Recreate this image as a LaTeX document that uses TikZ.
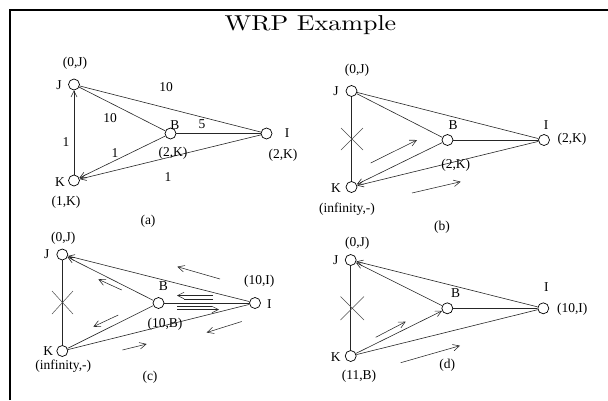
\documentclass[tikz,border=0pt]{standalone}
\usepackage{fontspec}
\newfontfamily\labfont{Liberation Serif}
\usetikzlibrary{arrows.meta}
\tikzset{
  vtx/.style={circle,draw=black,line width=0.7pt,minimum size=11pt,inner sep=0pt,fill=white},
  edge/.style={draw=black!85,line width=0.6pt},
  dir/.style={edge,-{Straight Barb[length=6pt,width=6pt]}},
  flow/.style={draw=black!85,line width=0.55pt,-{Straight Barb[length=6.5pt,width=6.5pt]}},
  shaft/.style={draw=black!85,line width=0.55pt},
  cross/.style={draw=black!70,line width=0.5pt},
  lab/.style={font=\labfont\fontsize{13.5}{15}\selectfont,inner sep=0pt},
  frameline/.style={line width=2pt,draw=black}
}
\begin{document}
\begin{tikzpicture}[x=1pt,y=-1pt]
\useasboundingbox (0,0) rectangle (608,400);
% frame and title
\draw[frameline] (10,400) -- (10,10) -- (608,10);
\node[anchor=base,xscale=2.6,yscale=2.15,inner sep=0pt] (title) at (310.5,30.7) {\fontsize{10}{12}\selectfont WRP Example};

% ---------- (a) ----------
\node[vtx] (aJ) at (74,84.5) {};
\node[vtx] (aK) at (74,180.5) {};
\node[vtx] (aB) at (170.5,133.5) {};
\node[vtx] (aI) at (266.5,133.5) {};
\draw[edge] (aJ) -- (aI);
\draw[edge] (aJ) -- (aB);
\draw[edge] (aB) -- (aI);
\draw[dir] (aB) -- (aK);
\draw[dir] (aI) -- (aK);
\draw[dir] (aK) -- (aJ);
\node[lab] at (75,63) {(0,J)};
\node[lab] at (59,85) {J};
\node[lab] at (166,87) {10};
\node[lab] at (110,118) {10};
\node[lab] at (175,125) {B};
\node[lab] at (202,124) {5};
\node[lab] at (287,133) {I};
\node[lab] at (173,153) {(2,K)};
\node[lab] at (283,155) {(2,K)};
\node[lab] at (66,142) {1};
\node[lab] at (115,153) {1};
\node[lab] at (168,177) {1};
\node[lab] at (60,182) {K};
\node[lab] at (66,202) {(1,K)};
\node[lab] at (148,221) {(a)};

% ---------- (b) ----------
\node[vtx] (bJ) at (351.5,91) {};
\node[vtx] (bK) at (351.5,187) {};
\node[vtx] (bB) at (447.5,140) {};
\node[vtx] (bI) at (544,140) {};
\draw[edge] (bJ) -- (bK);
\draw[edge] (bJ) -- (bB);
\draw[edge] (bJ) -- (bI);
\draw[edge] (bB) -- (bI);
\draw[dir] (bB) -- (bK);
\draw[dir] (bI) -- (bK);
\draw[cross] (341,128) -- (363,150) (341,150) -- (363,128);
\draw[flow] (370.7,163) -- (417,140);
\draw[flow] (412,193) -- (460.7,181.7);
\node[lab] at (357,70) {(0,J)};
\node[lab] at (336,90.7) {J};
\node[lab] at (453,125) {B};
\node[lab] at (546,125) {I};
\node[lab] at (572,139) {(2,K)};
\node[lab] at (455.7,165) {(2,K)};
\node[lab] at (336,188) {K};
\node[lab] at (347,209.5) {(infinity,-)};
\node[lab] at (442,227) {(b)};

% ---------- (c) ----------
\node[vtx] (cJ) at (62.3,254.5) {};
\node[vtx] (cK) at (62.3,351) {};
\node[vtx] (cB) at (158.5,303) {};
\node[vtx] (cI) at (255,303) {};
\draw[edge] (cJ) -- (cK);
\draw[edge] (cK) -- (cB);
\draw[edge] (cK) -- (cI);
\draw[edge] (cB) -- (cI);
\draw[dir] (cB) -- (cJ);
\draw[dir] (cI) -- (cJ);
\draw[cross] (52,291) -- (73,314) (52,314) -- (73,291);
\draw[flow] (220,279) -- (177.3,266.7);
\draw[flow] (121.7,290) -- (98.3,279.3);
\draw[flow] (213,295.5) -- (177,295.5);
\draw[shaft] (213,298.8) -- (184,298.8);
\draw[flow] (177,309.5) -- (219,309.5);
\draw[shaft] (177,306.2) -- (212,306.2);
\draw[flow] (118.3,315) -- (93.3,326.7);
\draw[flow] (241.7,321.5) -- (206.7,332.5);
\draw[flow] (122.5,350) -- (146.7,344);
\node[lab] at (63.3,238.3) {(0,J)};
\node[lab] at (46.7,254.3) {J};
\node[lab] at (163.3,286) {B};
\node[lab] at (259.3,281) {(10,I)};
\node[lab] at (269.3,304) {I};
\node[lab] at (165,324) {(10,B)};
\node[lab] at (48.3,351.5) {K};
\node[lab] at (63.3,366) {(infinity,-)};
\node[lab] at (150,377.3) {(c)};

% ---------- (d) ----------
\node[vtx] (dJ) at (350.7,260) {};
\node[vtx] (dK) at (350.7,356) {};
\node[vtx] (dB) at (447.3,308.3) {};
\node[vtx] (dI) at (543.3,308.3) {};
\draw[edge] (dJ) -- (dK);
\draw[dir] (dK) -- (dB);
\draw[edge] (dK) -- (dI);
\draw[edge] (dB) -- (dI);
\draw[dir] (dB) -- (dJ);
\draw[dir] (dI) -- (dJ);
\draw[cross] (340.5,296.5) -- (364,320) (340.5,320) -- (364,296.5);
\draw[flow] (375.7,337.3) -- (405.7,321.7);
\draw[flow] (400.7,362.7) -- (460,345.7);
\node[lab] at (357.3,243.3) {(0,J)};
\node[lab] at (335.7,260) {J};
\node[lab] at (455.7,293.3) {B};
\node[lab] at (546.3,287.3) {I};
\node[lab] at (572.3,309.3) {(10,I)};
\node[lab] at (335.7,356.7) {K};
\node[lab] at (359,376.7) {(11,B)};
\node[lab] at (447.3,365) {(d)};
\end{tikzpicture}
\end{document}
